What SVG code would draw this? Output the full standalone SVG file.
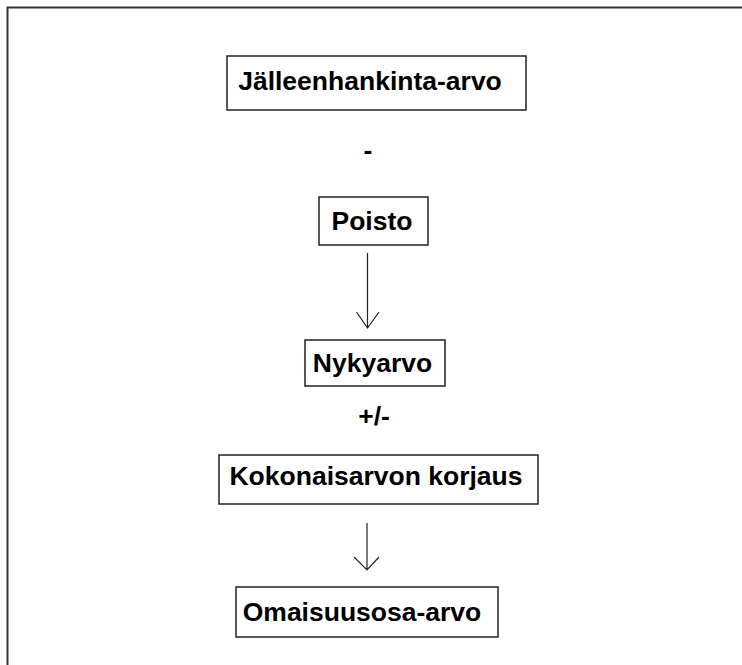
<svg xmlns="http://www.w3.org/2000/svg" width="742" height="665" viewBox="0 0 742 665">
<style>
.box{fill:#fff;stroke:#222;stroke-width:1.5}
.t{font-family:"Liberation Sans",Arial,sans-serif;font-weight:bold;font-size:26.5px;fill:#000;text-anchor:middle}
.c{stroke:#222;stroke-width:1.2;fill:none}
</style>
<rect width="742" height="665" fill="#fff"/>
<path d="M7.5,665 V7.5 H742" fill="none" stroke="#333" stroke-width="2"/>
<g id="n1"><rect class="box" x="227" y="56" width="299" height="54"/><text class="t" x="370" y="90">Jälleenhankinta-arvo</text></g>
<g id="minus"><text class="t" x="368" y="159">-</text></g>
<g id="n2"><rect class="box" x="319" y="197" width="109" height="48"/><text class="t" x="372" y="230">Poisto</text></g>
<g id="n3"><rect class="box" x="305" y="340" width="140" height="46"/><text class="t" x="372.5" y="372">Nykyarvo</text></g>
<g id="plusminus"><text class="t" x="374" y="425">+/-</text></g>
<g id="n4"><rect class="box" x="219" y="455" width="319" height="49"/><text class="t" x="376" y="485">Kokonaisarvon korjaus</text></g>
<g id="n5"><rect class="box" x="236" y="587" width="262" height="50"/><text class="t" x="362" y="621">Omaisuusosa-arvo</text></g>
<g id="connectors">
<path class="c" d="M367.5,253 V328 M356.5,312 L367.5,328 L379,312"/>
<path class="c" d="M367,523 V570 M354,557 L367,570 L379,557"/>
</g>
</svg>
